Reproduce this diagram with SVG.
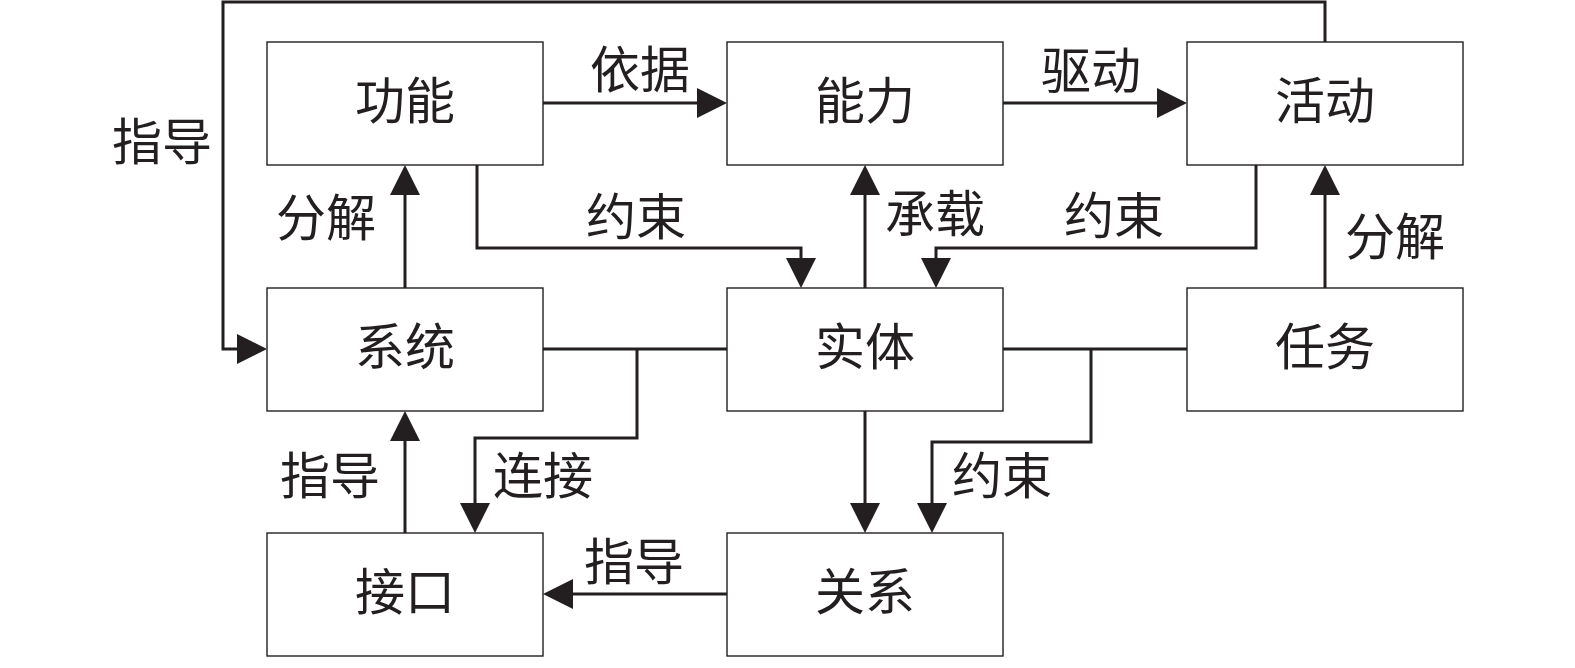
<svg xmlns="http://www.w3.org/2000/svg" width="1575" height="668" viewBox="0 0 1575 668">
<style>
.box{fill:#fff;stroke:#231f20;stroke-width:1.4}
.t{font-family:"Liberation Serif","Noto Sans CJK SC",serif;font-size:50px;fill:#231f20;text-anchor:middle;dominant-baseline:central}
.c{fill:none;stroke:#231f20;stroke-width:3}
.a{marker-end:url(#arr)}
</style>
<defs>
<marker id="arr" viewBox="0 0 30 30" refX="10" refY="15" markerWidth="30" markerHeight="30" markerUnits="userSpaceOnUse" orient="auto">
<path d="M0,0 L30,15 L0,30 Z" fill="#231f20"/>
</marker>
</defs>
<rect width="1575" height="668" fill="#fff"/>
<g id="connectors">
<path class="c a" d="M543,103 H707"/>
<path class="c a" d="M1003,103 H1167"/>
<path class="c a" d="M1325,42 V2 H223 V349 H247"/>
<path class="c a" d="M405,288 V185"/>
<path class="c a" d="M477,165 V248 H801 V268"/>
<path class="c a" d="M865,288 V185"/>
<path class="c a" d="M1256,165 V248 H936 V268"/>
<path class="c a" d="M1325,288 V185"/>
<path class="c" d="M543,349 H727"/>
<path class="c a" d="M637,349 V438 H475 V513"/>
<path class="c" d="M1003,349 H1187"/>
<path class="c a" d="M1091,349 V442 H932 V513"/>
<path class="c a" d="M865,411 V513"/>
<path class="c a" d="M405,533 V431"/>
<path class="c a" d="M727,594 H563"/>
<text class="t" x="640" y="71">依据</text>
<text class="t" x="1091" y="72">驱动</text>
<text class="t" x="162" y="143">指导</text>
<text class="t" x="326" y="219">分解</text>
<text class="t" x="636" y="218">约束</text>
<text class="t" x="935" y="215">承载</text>
<text class="t" x="1114" y="217">约束</text>
<text class="t" x="1395" y="238">分解</text>
<text class="t" x="330" y="477">指导</text>
<text class="t" x="543" y="477">连接</text>
<text class="t" x="1002" y="477">约束</text>
<text class="t" x="634" y="563">指导</text>
</g>
<g id="n-gongneng"><rect class="box" x="267" y="42" width="276" height="123"/><text class="t" x="405" y="102">功能</text></g>
<g id="n-nengli"><rect class="box" x="727" y="42" width="276" height="123"/><text class="t" x="865" y="102">能力</text></g>
<g id="n-huodong"><rect class="box" x="1187" y="42" width="276" height="123"/><text class="t" x="1325" y="102">活动</text></g>
<g id="n-xitong"><rect class="box" x="267" y="288" width="276" height="123"/><text class="t" x="405" y="348">系统</text></g>
<g id="n-shiti"><rect class="box" x="727" y="288" width="276" height="123"/><text class="t" x="865" y="348">实体</text></g>
<g id="n-renwu"><rect class="box" x="1187" y="288" width="276" height="123"/><text class="t" x="1325" y="348">任务</text></g>
<g id="n-jiekou"><rect class="box" x="267" y="533" width="276" height="123"/><text class="t" x="405" y="593">接口</text></g>
<g id="n-guanxi"><rect class="box" x="727" y="533" width="276" height="123"/><text class="t" x="865" y="593">关系</text></g>
</svg>
